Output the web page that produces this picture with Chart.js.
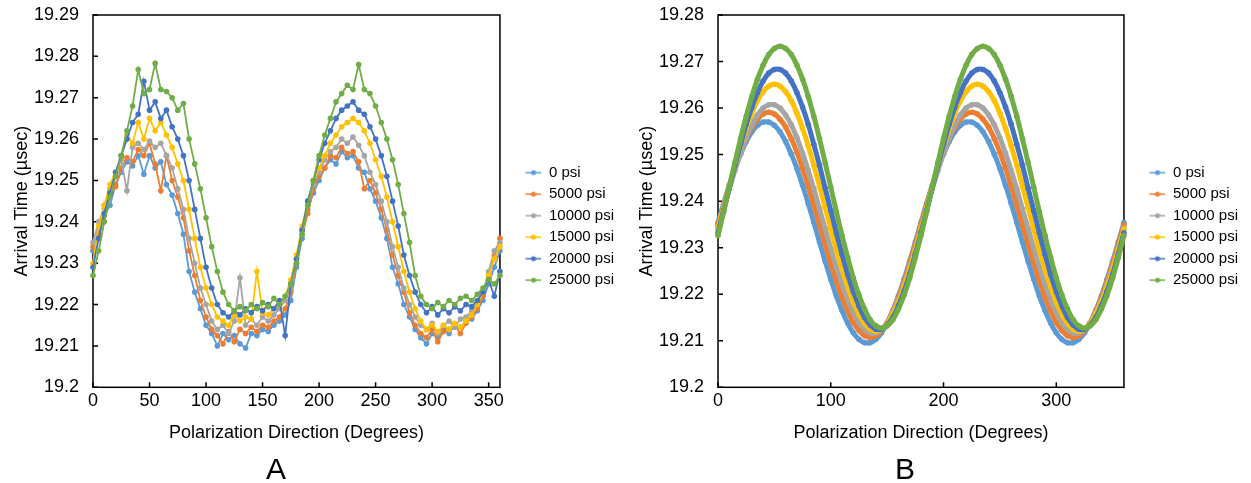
<!DOCTYPE html>
<html>
<head>
<meta charset="utf-8">
<script src="https://cdn.jsdelivr.net/npm/chart.js@4.4.1/dist/chart.umd.min.js"></script>
<style>
    html, body { margin: 0; padding: 0; background: #fff; }
    .wrap { position: relative; width: 1251px; height: 483px; }
    #chartA { position: absolute; left: 0; top: 0; }
    #chartB { position: absolute; left: 625px; top: 0; }
    .panel-label {
        position: absolute; top: 454px; width: 60px; text-align: center;
        font: 30px/30px 'Liberation Sans', Arial, sans-serif; color: #000;
    }
</style>
</head>
<body>
<div class="wrap">
    <canvas id="chartA" width="625" height="483"></canvas>
    <canvas id="chartB" width="626" height="483"></canvas>
    <div class="panel-label" style="left: 246px;">A</div>
    <div class="panel-label" style="left: 875px;">B</div>
</div>
<script>
// polarization angles (degrees), shared by both panels
const angles = [
    0, 5, 10, 15, 20, 25, 30, 35, 40, 45, 50, 55,
    60, 65, 70, 75, 80, 85, 90, 95, 100, 105, 110, 115,
    120, 125, 130, 135, 140, 145, 150, 155, 160, 165, 170, 175,
    180, 185, 190, 195, 200, 205, 210, 215, 220, 225, 230, 235,
    240, 245, 250, 255, 260, 265, 270, 275, 280, 285, 290, 295,
    300, 305, 310, 315, 320, 325, 330, 335, 340, 345, 350, 355,
    360
];

const seriesNames = ['0 psi', '5000 psi', '10000 psi', '15000 psi', '20000 psi', '25000 psi'];
const seriesColors = ['#5B9BD5', '#ED7D31', '#A5A5A5', '#FFC000', '#4472C4', '#70AD47'];

// tick labels
const xTicksA = [0, 50, 100, 150, 200, 250, 300, 350];
const xTicksB = [0, 100, 200, 300];
const yTicksA = [19.2, 19.21, 19.22, 19.23, 19.24, 19.25, 19.26, 19.27, 19.28, 19.29];
const yTicksB = [19.2, 19.21, 19.22, 19.23, 19.24, 19.25, 19.26, 19.27, 19.28];

// Panel A - measured arrival times (usec)
const measured0 = [
    19.2330, 19.2380, 19.2415, 19.2440, 19.2490, 19.2520,
    19.2545, 19.2535, 19.2560, 19.2515, 19.2560, 19.2530,
    19.2545, 19.2490, 19.2465, 19.2420, 19.2370, 19.2280,
    19.2230, 19.2190, 19.2150, 19.2130, 19.2100, 19.2130,
    19.2115, 19.2125, 19.2105, 19.2095, 19.2130, 19.2125,
    19.2140, 19.2135, 19.2150, 19.2160, 19.2175, 19.2210,
    19.2290, 19.2360, 19.2430, 19.2470, 19.2500, 19.2530,
    19.2550, 19.2540, 19.2570, 19.2555, 19.2560, 19.2530,
    19.2520, 19.2480, 19.2450, 19.2410, 19.2360, 19.2290,
    19.2250, 19.2200, 19.2170, 19.2140, 19.2120, 19.2105,
    19.2130, 19.2120, 19.2140, 19.2130, 19.2150, 19.2145,
    19.2160, 19.2165, 19.2185, 19.2210, 19.2250, 19.2290,
    19.2330
];
const measured5000 = [
    19.2340, 19.2370, 19.2440, 19.2470, 19.2485, 19.2530,
    19.2555, 19.2545, 19.2575, 19.2560, 19.2590, 19.2540,
    19.2475, 19.2560, 19.2500, 19.2460, 19.2410, 19.2330,
    19.2270, 19.2210, 19.2170, 19.2140, 19.2125, 19.2105,
    19.2135, 19.2110, 19.2140, 19.2130, 19.2145, 19.2135,
    19.2150, 19.2145, 19.2160, 19.2170, 19.2190, 19.2230,
    19.2300, 19.2370, 19.2420, 19.2480, 19.2510, 19.2530,
    19.2560, 19.2555, 19.2580, 19.2565, 19.2570, 19.2545,
    19.2480, 19.2500, 19.2470, 19.2430, 19.2380, 19.2320,
    19.2270, 19.2230, 19.2180, 19.2150, 19.2130, 19.2120,
    19.2140, 19.2110, 19.2135, 19.2140, 19.2150, 19.2130,
    19.2155, 19.2170, 19.2190, 19.2220, 19.2270, 19.2320,
    19.2360
];
const measured10000 = [
    19.2350, 19.2400, 19.2430, 19.2480, 19.2510, 19.2550,
    19.2475, 19.2580, 19.2590, 19.2575, 19.2595, 19.2580,
    19.2590, 19.2560, 19.2530, 19.2480, 19.2430, 19.2360,
    19.2300, 19.2240, 19.2200, 19.2160, 19.2140, 19.2150,
    19.2130, 19.2160, 19.2265, 19.2150, 19.2165, 19.2150,
    19.2170, 19.2160, 19.2175, 19.2190, 19.2210, 19.2240,
    19.2310, 19.2380, 19.2440, 19.2490, 19.2520, 19.2550,
    19.2570, 19.2580, 19.2600, 19.2590, 19.2605, 19.2585,
    19.2560, 19.2520, 19.2490, 19.2450, 19.2400, 19.2340,
    19.2290, 19.2240, 19.2200, 19.2170, 19.2150, 19.2140,
    19.2155, 19.2130, 19.2150, 19.2160, 19.2145, 19.2165,
    19.2170, 19.2185, 19.2200, 19.2230, 19.2280, 19.2330,
    19.2350
];
const measured15000 = [
    19.2300, 19.2390, 19.2440, 19.2490, 19.2520, 19.2560,
    19.2610, 19.2590, 19.2640, 19.2600, 19.2650, 19.2620,
    19.2640, 19.2610, 19.2580, 19.2540, 19.2500, 19.2430,
    19.2360, 19.2290, 19.2240, 19.2200, 19.2170, 19.2160,
    19.2150, 19.2175, 19.2160, 19.2170, 19.2165, 19.2280,
    19.2180, 19.2175, 19.2190, 19.2200, 19.2220, 19.2260,
    19.2320, 19.2390, 19.2450, 19.2500, 19.2530, 19.2560,
    19.2590, 19.2610, 19.2630, 19.2640, 19.2650, 19.2640,
    19.2620, 19.2590, 19.2550, 19.2510, 19.2460, 19.2400,
    19.2340, 19.2280, 19.2230, 19.2190, 19.2160, 19.2140,
    19.2150, 19.2135, 19.2150, 19.2140, 19.2155, 19.2145,
    19.2160, 19.2175, 19.2200, 19.2230, 19.2270, 19.2310,
    19.2340
];
const measured20000 = [
    19.2290, 19.2360, 19.2420, 19.2470, 19.2520, 19.2560,
    19.2600, 19.2640, 19.2660, 19.2740, 19.2670, 19.2690,
    19.2650, 19.2670, 19.2630, 19.2600, 19.2560, 19.2500,
    19.2430, 19.2360, 19.2290, 19.2240, 19.2200, 19.2180,
    19.2170, 19.2185, 19.2175, 19.2190, 19.2180, 19.2195,
    19.2185, 19.2200, 19.2190, 19.2210, 19.2125, 19.2250,
    19.2310, 19.2380, 19.2450, 19.2500, 19.2550, 19.2590,
    19.2620, 19.2650, 19.2670, 19.2680, 19.2690, 19.2670,
    19.2660, 19.2630, 19.2600, 19.2560, 19.2510, 19.2450,
    19.2390, 19.2320, 19.2270, 19.2230, 19.2200, 19.2180,
    19.2195, 19.2175, 19.2190, 19.2180, 19.2195, 19.2185,
    19.2200, 19.2195, 19.2210, 19.2230, 19.2260, 19.2220,
    19.2280
];
const measured25000 = [
    19.2270, 19.2330, 19.2400, 19.2460, 19.2510, 19.2560,
    19.2620, 19.2680, 19.2768, 19.2710, 19.2720, 19.2783,
    19.2720, 19.2715, 19.2700, 19.2670, 19.2686, 19.2600,
    19.2540, 19.2480, 19.2410, 19.2340, 19.2280, 19.2230,
    19.2200, 19.2185, 19.2195, 19.2185, 19.2200, 19.2190,
    19.2205, 19.2195, 19.2215, 19.2200, 19.2220, 19.2250,
    19.2300, 19.2370, 19.2440, 19.2500, 19.2560, 19.2610,
    19.2650, 19.2690, 19.2710, 19.2730, 19.2720, 19.2780,
    19.2720, 19.2710, 19.2680, 19.2640, 19.2600, 19.2550,
    19.2490, 19.2420, 19.2350, 19.2270, 19.2220, 19.2200,
    19.2190, 19.2205, 19.2195, 19.2210, 19.2200, 19.2215,
    19.2220, 19.2210, 19.2225, 19.2240, 19.2260, 19.2250,
    19.2270
];

// Panel B - fitted arrival times (usec)
const fitted0 = [
    19.2354, 19.2395, 19.2434, 19.2470, 19.2501, 19.2528, 19.2549, 19.2563, 19.2570,
    19.2570, 19.2563, 19.2549, 19.2528, 19.2501, 19.2470, 19.2434, 19.2395, 19.2354,
    19.2312, 19.2271, 19.2232, 19.2196, 19.2165, 19.2138, 19.2117, 19.2103, 19.2096,
    19.2096, 19.2103, 19.2117, 19.2138, 19.2165, 19.2196, 19.2232, 19.2271, 19.2312,
    19.2354, 19.2395, 19.2434, 19.2470, 19.2501, 19.2528, 19.2549, 19.2563, 19.2570,
    19.2570, 19.2563, 19.2549, 19.2528, 19.2501, 19.2470, 19.2434, 19.2395, 19.2354,
    19.2312, 19.2271, 19.2232, 19.2196, 19.2165, 19.2138, 19.2117, 19.2103, 19.2096,
    19.2096, 19.2103, 19.2117, 19.2138, 19.2165, 19.2196, 19.2232, 19.2271, 19.2312,
    19.2354
];
const fitted5000 = [
    19.2349, 19.2391, 19.2432, 19.2470, 19.2505, 19.2534, 19.2559, 19.2576, 19.2587,
    19.2591, 19.2587, 19.2576, 19.2559, 19.2534, 19.2505, 19.2470, 19.2432, 19.2391,
    19.2349, 19.2307, 19.2266, 19.2228, 19.2193, 19.2164, 19.2139, 19.2122, 19.2111,
    19.2107, 19.2111, 19.2122, 19.2139, 19.2164, 19.2193, 19.2228, 19.2266, 19.2307,
    19.2349, 19.2391, 19.2432, 19.2470, 19.2505, 19.2534, 19.2559, 19.2576, 19.2587,
    19.2591, 19.2587, 19.2576, 19.2559, 19.2534, 19.2505, 19.2470, 19.2432, 19.2391,
    19.2349, 19.2307, 19.2266, 19.2228, 19.2193, 19.2164, 19.2139, 19.2122, 19.2111,
    19.2107, 19.2111, 19.2122, 19.2139, 19.2164, 19.2193, 19.2228, 19.2266, 19.2307,
    19.2349
];
const fitted10000 = [
    19.2341, 19.2383, 19.2426, 19.2466, 19.2503, 19.2536, 19.2564, 19.2585, 19.2600,
    19.2607, 19.2607, 19.2600, 19.2585, 19.2564, 19.2536, 19.2503, 19.2466, 19.2426,
    19.2383, 19.2341, 19.2298, 19.2258, 19.2221, 19.2188, 19.2161, 19.2139, 19.2124,
    19.2117, 19.2117, 19.2124, 19.2139, 19.2161, 19.2188, 19.2221, 19.2258, 19.2298,
    19.2341, 19.2383, 19.2426, 19.2466, 19.2503, 19.2536, 19.2564, 19.2585, 19.2600,
    19.2607, 19.2607, 19.2600, 19.2585, 19.2564, 19.2536, 19.2503, 19.2466, 19.2426,
    19.2383, 19.2341, 19.2298, 19.2258, 19.2221, 19.2188, 19.2161, 19.2139, 19.2124,
    19.2117, 19.2117, 19.2124, 19.2139, 19.2161, 19.2188, 19.2221, 19.2258, 19.2298,
    19.2341
];
const fitted15000 = [
    19.2340, 19.2386, 19.2432, 19.2477, 19.2519, 19.2556, 19.2589, 19.2616, 19.2635,
    19.2647, 19.2651, 19.2647, 19.2635, 19.2616, 19.2589, 19.2556, 19.2519, 19.2477,
    19.2432, 19.2386, 19.2340, 19.2295, 19.2254, 19.2216, 19.2183, 19.2157, 19.2137,
    19.2125, 19.2121, 19.2125, 19.2137, 19.2157, 19.2183, 19.2216, 19.2254, 19.2295,
    19.2340, 19.2386, 19.2432, 19.2477, 19.2519, 19.2556, 19.2589, 19.2616, 19.2635,
    19.2647, 19.2651, 19.2647, 19.2635, 19.2616, 19.2589, 19.2556, 19.2519, 19.2477,
    19.2432, 19.2386, 19.2340, 19.2295, 19.2254, 19.2216, 19.2183, 19.2157, 19.2137,
    19.2125, 19.2121, 19.2125, 19.2137, 19.2157, 19.2183, 19.2216, 19.2254, 19.2295,
    19.2340
];
const fitted20000 = [
    19.2332, 19.2380, 19.2428, 19.2477, 19.2522, 19.2565, 19.2602, 19.2633, 19.2658,
    19.2675, 19.2683, 19.2683, 19.2675, 19.2658, 19.2633, 19.2602, 19.2565, 19.2522,
    19.2477, 19.2428, 19.2380, 19.2332, 19.2286, 19.2243, 19.2206, 19.2175, 19.2150,
    19.2134, 19.2125, 19.2125, 19.2134, 19.2150, 19.2175, 19.2206, 19.2243, 19.2286,
    19.2332, 19.2380, 19.2428, 19.2477, 19.2522, 19.2565, 19.2602, 19.2633, 19.2658,
    19.2675, 19.2683, 19.2683, 19.2675, 19.2658, 19.2633, 19.2602, 19.2565, 19.2522,
    19.2477, 19.2428, 19.2380, 19.2332, 19.2286, 19.2243, 19.2206, 19.2175, 19.2150,
    19.2134, 19.2125, 19.2125, 19.2134, 19.2150, 19.2175, 19.2206, 19.2243, 19.2286,
    19.2332
];
const fitted25000 = [
    19.2326, 19.2377, 19.2430, 19.2483, 19.2534, 19.2582, 19.2625, 19.2662, 19.2692,
    19.2715, 19.2728, 19.2733, 19.2728, 19.2715, 19.2692, 19.2662, 19.2625, 19.2582,
    19.2534, 19.2483, 19.2430, 19.2377, 19.2326, 19.2279, 19.2235, 19.2198, 19.2168,
    19.2145, 19.2132, 19.2127, 19.2132, 19.2145, 19.2168, 19.2198, 19.2235, 19.2279,
    19.2326, 19.2377, 19.2430, 19.2483, 19.2534, 19.2582, 19.2625, 19.2662, 19.2692,
    19.2715, 19.2728, 19.2733, 19.2728, 19.2715, 19.2692, 19.2662, 19.2625, 19.2582,
    19.2534, 19.2483, 19.2430, 19.2377, 19.2326, 19.2279, 19.2235, 19.2198, 19.2168,
    19.2145, 19.2132, 19.2127, 19.2132, 19.2145, 19.2168, 19.2198, 19.2235, 19.2279,
    19.2326
];

const measured = [measured0, measured5000, measured10000, measured15000, measured20000, measured25000];
const fitted = [fitted0, fitted5000, fitted10000, fitted15000, fitted20000, fitted25000];

Chart.defaults.font.family = "'Liberation Sans', Arial, sans-serif";
Chart.defaults.font.size = 18;
Chart.defaults.color = '#000';

// Plot frame and inward tick marks (drawn under the data, like Excel)
const framePlugin = {
    id: 'frame',
    beforeDatasetsDraw(chart) {
        const { ctx, chartArea: { left, top, right, bottom }, scales: { x, y } } = chart;
        ctx.save();
        ctx.strokeStyle = '#000';
        ctx.lineWidth = 1.5;
        ctx.beginPath();
        x.ticks.forEach(t => {
            const px = x.getPixelForValue(t.value);
            ctx.moveTo(px, bottom);
            ctx.lineTo(px, bottom - 5);
        });
        y.ticks.forEach(t => {
            const py = y.getPixelForValue(t.value);
            ctx.moveTo(left, py);
            ctx.lineTo(left + 5, py);
        });
        ctx.stroke();
        ctx.strokeRect(left, top, right - left, bottom - top);
        ctx.restore();
    }
};

// Legend marker: short line with a dot, pushed to the right end of its box
function legendIcon(color) {
    const c = document.createElement('canvas');
    c.width = 35;
    c.height = 8;
    const g = c.getContext('2d');
    g.strokeStyle = color;
    g.lineWidth = 1.5;
    g.beginPath();
    g.moveTo(19, 4);
    g.lineTo(35, 4);
    g.stroke();
    g.fillStyle = color;
    g.beginPath();
    g.arc(27, 4, 2.5, 0, Math.PI * 2);
    g.fill();
    return c;
}
const legendIcons = seriesColors.map(legendIcon);

function makeChart(canvasId, values, xTicks, yTicks, smooth, padRight) {
    const datasets = values.map((vals, i) => ({
        label: seriesNames[i],
        data: angles.map((a, j) => ({ x: a, y: vals[j] })),
        borderColor: seriesColors[i],
        backgroundColor: seriesColors[i],
        borderWidth: smooth ? 5 : 1.8,
        pointRadius: smooth ? 2.8 : 2.8,
        pointBorderWidth: 0,
        pointHoverRadius: 3,
        tension: smooth ? 0.4 : 0,
        order: values.length - 1 - i,
        clip: 4
    }));

    return new Chart(document.getElementById(canvasId), {
        type: 'line',
        data: { datasets },
        plugins: [framePlugin],
        options: {
            responsive: false,
            animation: false,
            layout: { padding: { top: 15, right: padRight, bottom: 34, left: 0 } },
            plugins: {
                legend: {
                    position: 'right',
                    fullSize: false,
                    reverse: true,
                    title: { display: true, text: '', font: { size: 10 }, padding: { top: 38.5, bottom: 0 } },
                    labels: {
                        usePointStyle: true,
                        pointStyleWidth: 35,
                        padding: 6.5,
                        font: { size: 15 },
                        color: '#000',
                        generateLabels: chart => Chart.defaults.plugins.legend.labels.generateLabels(chart)
                            .map(l => ({ ...l, pointStyle: legendIcons[l.datasetIndex] }))
                    }
                },
                tooltip: { enabled: false }
            },
            scales: {
                x: {
                    type: 'linear',
                    min: 0,
                    max: 360,
                    afterBuildTicks: s => { s.ticks = xTicks.map(v => ({ value: v })); },
                    grid: { display: false, drawTicks: false },
                    border: { display: false },
                    ticks: { padding: 3, maxRotation: 0, autoSkip: false },
                    title: {
                        display: true,
                        text: 'Polarization Direction (Degrees)',
                        padding: { top: 7.5, bottom: 5 }
                    }
                },
                y: {
                    type: 'linear',
                    min: yTicks[0],
                    max: yTicks[yTicks.length - 1],
                    afterBuildTicks: s => { s.ticks = yTicks.map(v => ({ value: v })); },
                    afterFit: s => {
                        s.width = 93;
                        s.paddingTop = 0;
                        s.paddingBottom = 0;
                    },
                    grid: { display: false, drawTicks: false },
                    border: { display: false },
                    ticks: {
                        padding: 14,
                        autoSkip: false,
                        callback: v => String(Math.round(v * 100) / 100)
                    },
                    title: {
                        display: true,
                        text: 'Arrival Time (µsec)',
                        padding: { top: 11, bottom: 0 }
                    }
                }
            }
        }
    });
}

makeChart('chartA', measured, xTicksA, yTicksA, false, 1);
makeChart('chartB', fitted, xTicksB, yTicksB, true, 3);
</script>
</body>
</html>
